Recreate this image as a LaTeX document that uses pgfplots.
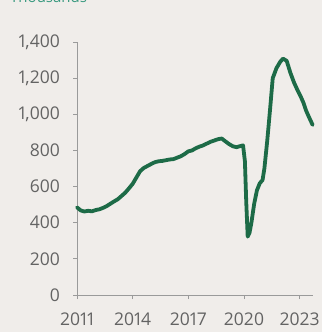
\documentclass[border=0pt]{standalone}
\usepackage{pgfplots}
\pgfplotsset{compat=1.18}
\usepackage{fontspec}
\setmainfont{Open Sans}[Numbers=Proportional]
\definecolor{bg}{HTML}{F0EDEA}
\definecolor{linegreen}{HTML}{1D6B47}
\definecolor{txt}{HTML}{636363}
\definecolor{axisgray}{HTML}{9A9A9A}
\definecolor{titleteal}{HTML}{3A9A80}

% Job openings, thousands
\pgfplotstableread{
year value
2011.00 485
2011.20 468
2011.40 462
2011.60 466
2011.80 463
2012.00 470
2012.20 474
2012.40 482
2012.60 492
2012.80 505
2013.00 518
2013.20 530
2013.40 548
2013.60 566
2013.80 590
2014.00 615
2014.20 650
2014.40 685
2014.60 703
2014.80 714
2015.00 725
2015.20 735
2015.40 740
2015.60 742
2015.80 746
2016.00 750
2016.20 752
2016.40 760
2016.60 768
2016.80 780
2017.00 795
2017.20 800
2017.40 812
2017.60 821
2017.80 828
2018.00 838
2018.20 848
2018.40 855
2018.60 862
2018.80 866
2019.00 850
2019.20 835
2019.40 823
2019.60 818
2019.80 824
2019.95 828
2020.05 740
2020.12 520
2020.20 323
2020.30 345
2020.40 400
2020.55 505
2020.70 580
2020.85 618
2021.00 636
2021.10 700
2021.25 850
2021.40 1020
2021.55 1200
2021.75 1255
2021.95 1290
2022.10 1308
2022.30 1296
2022.50 1230
2022.70 1175
2022.90 1130
2023.05 1100
2023.20 1065
2023.35 1020
2023.50 985
2023.70 941
}\openings

\begin{document}
\begin{tikzpicture}[x=1pt,y=1pt]
\fill[bg] (-77,-37) rectangle (245,295);
\path[use as bounding box] (-77,-37) rectangle (245,295);
\node[anchor=base west, font=\fontsize{15}{18}\selectfont, text=titleteal, inner sep=0pt] at (-67,292) {Thousands};
\begin{axis}[
  at={(0,0)}, anchor=south west,
  scale only axis, width=236pt, height=253pt,
  xmin=2011, xmax=2023.72, ymin=0, ymax=1400,
  axis lines*=left,
  axis line style={axisgray, line width=0.8pt, -},
  xtick={2011,2014,2017,2020,2023},
  ytick={0,200,...,1400},
  tick align=outside,
  major tick length=4pt,
  tick style={axisgray, line width=0.8pt},
  /pgf/number format/assume math mode=true,
  tick label style={font=\fontsize{17.5}{20}\selectfont, text=txt, inner sep=0pt},
  x tick label style={/pgf/number format/1000 sep={}, yshift=-13.5pt},
  y tick label style={/pgf/number format/1000 sep={,}, xshift=-13pt},
  clip=false,
]
\addplot[linegreen, line width=3.8pt, line join=round, line cap=round] table[x=year, y=value] {\openings};
\end{axis}
\end{tikzpicture}
\end{document}
